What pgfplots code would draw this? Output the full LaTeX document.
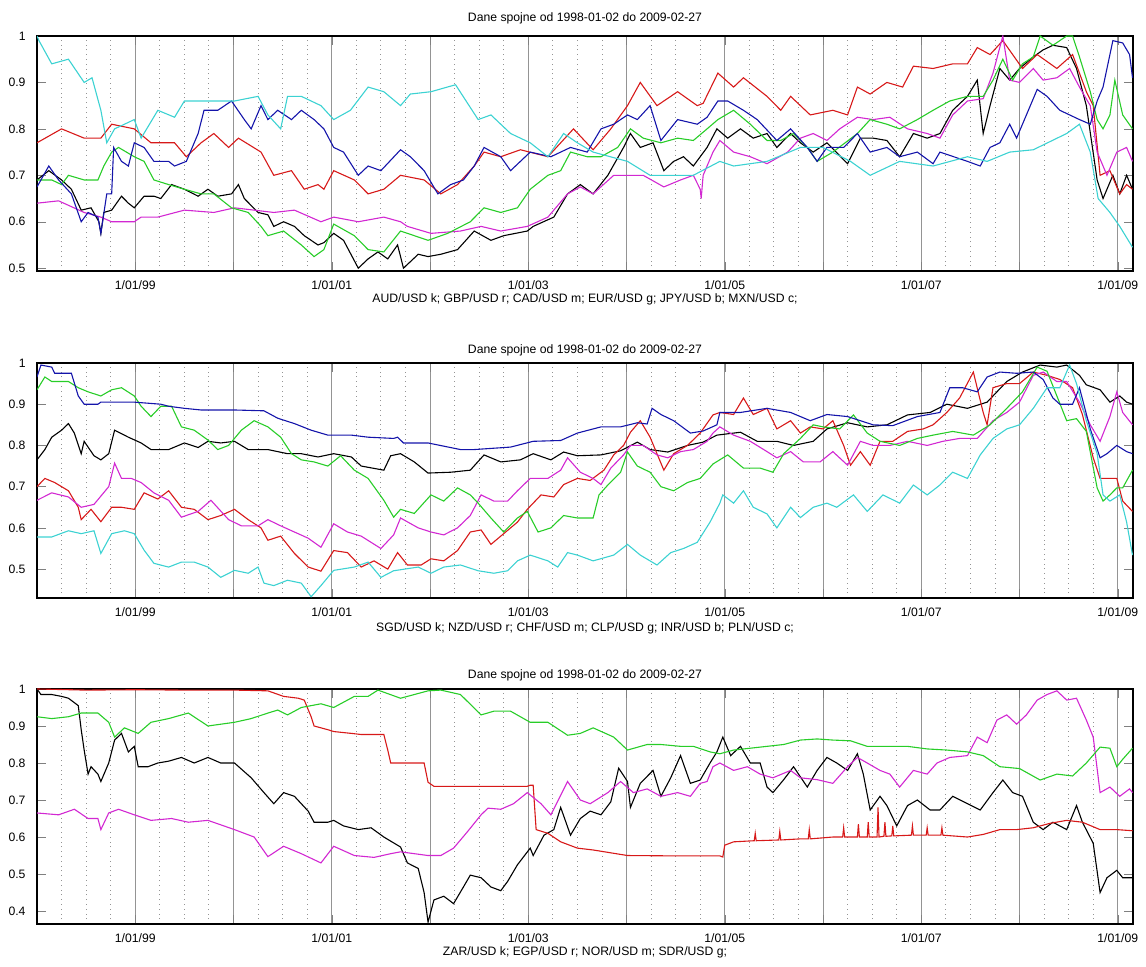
\documentclass[border=0pt]{standalone}
\usepackage{pgfplots}
\pgfplotsset{compat=1.18}
\usepackage{fontspec}
\setmainfont{Liberation Sans}
\definecolor{mk}{RGB}{0,0,0}
\definecolor{mr}{RGB}{215,25,25}
\definecolor{mm}{RGB}{210,40,210}
\definecolor{mg}{RGB}{40,205,40}
\definecolor{mb}{RGB}{20,20,170}
\definecolor{mc}{RGB}{60,210,210}
\newcommand{\fsz}{\fontsize{6.1}{7}\selectfont}
\pgfplotsset{
  fx/.style={
    scale only axis, width=548pt, height=117.5pt,
    xmin=1998.0, xmax=2009.155, ymax=1,
    xtick={1999,2000,2001,2002,2003,2004,2005,2006,2007,2008,2009},
    xticklabels={1/01/99,,1/01/01,,1/01/03,,1/01/05,,1/01/07,,1/01/09},
    minor xtick={1998.25,1998.5,1998.75,1999.25,1999.5,1999.75,2000.25,2000.5,2000.75,2001.25,2001.5,2001.75,2002.25,2002.5,2002.75,2003.25,2003.5,2003.75,2004.25,2004.5,2004.75,2005.25,2005.5,2005.75,2006.25,2006.5,2006.75,2007.25,2007.5,2007.75,2008.25,2008.5,2008.75},
    xmajorgrids, xminorgrids,
    major grid style={black!42, line width=0.45pt},
    minor grid style={black!42, dotted, line width=0.45pt},
    tick align=inside, major tick length=4.5pt, minor tick length=0pt,
    ytick pos=both, xtick pos=both,
    /pgf/number format/assume math mode=true,
    ticklabel style={font=\fsz},
    xticklabel style={anchor=base, yshift=-9.2pt},
    yticklabel style={xshift=-2.2pt},
    title={Dane spojne od 1998-01-02 do 2009-02-27},
    title style={font=\fsz, at={(0.5,1)}, anchor=base},
    xlabel style={font=\fsz, at={(0.5,0)}, anchor=base, yshift=-15.9pt},
    axis line style={black, line width=0.6pt},
    every axis plot/.append style={line width=0.55pt, mark=none},
  }
}
\begin{document}
\begin{tikzpicture}
\useasboundingbox (0,0) rectangle (573pt,483.5pt);
% ---------------- Panel 1 ----------------
\begin{axis}[fx, at={(18.5pt,465.5pt)}, anchor=north west, ymin=0.494,
  title style={yshift=1.0pt},
  ytick={0.5,0.6,0.7,0.8,0.9,1},
  xlabel={AUD/USD k; GBP/USD r; CAD/USD m; EUR/USD g; JPY/USD b; MXN/USD c;}]
\addplot[mk] coordinates {(1998.00,0.69)(1998.12,0.71)(1998.25,0.69)(1998.35,0.67)(1998.45,0.625)(1998.55,0.63)(1998.63,0.60)(1998.65,0.575)(1998.68,0.62)(1998.76,0.625)(1998.86,0.655)(1998.93,0.64)(1998.99,0.63)(1999.09,0.655)(1999.19,0.655)(1999.26,0.65)(1999.37,0.68)(1999.50,0.67)(1999.64,0.655)(1999.74,0.67)(1999.84,0.655)(1999.98,0.66)(2000.05,0.68)(2000.11,0.65)(2000.25,0.62)(2000.35,0.615)(2000.41,0.59)(2000.51,0.60)(2000.62,0.59)(2000.72,0.57)(2000.86,0.55)(2000.92,0.555)(2001.02,0.575)(2001.12,0.56)(2001.27,0.50)(2001.37,0.52)(2001.47,0.535)(2001.57,0.52)(2001.67,0.55)(2001.73,0.50)(2001.88,0.53)(2001.98,0.525)(2002.11,0.53)(2002.28,0.54)(2002.45,0.58)(2002.62,0.56)(2002.75,0.57)(2002.99,0.58)(2003.05,0.59)(2003.26,0.61)(2003.40,0.66)(2003.53,0.68)(2003.66,0.66)(2003.81,0.70)(2003.97,0.76)(2004.04,0.79)(2004.14,0.76)(2004.27,0.77)(2004.38,0.71)(2004.48,0.73)(2004.58,0.74)(2004.68,0.72)(2004.82,0.76)(2004.92,0.80)(2005.03,0.78)(2005.16,0.80)(2005.29,0.78)(2005.43,0.79)(2005.53,0.76)(2005.67,0.79)(2005.77,0.77)(2005.90,0.75)(2006.04,0.77)(2006.25,0.725)(2006.38,0.78)(2006.51,0.78)(2006.65,0.775)(2006.78,0.74)(2006.92,0.79)(2007.06,0.78)(2007.19,0.79)(2007.32,0.84)(2007.47,0.87)(2007.57,0.905)(2007.63,0.79)(2007.70,0.85)(2007.80,0.93)(2007.90,0.905)(2008.00,0.93)(2008.14,0.955)(2008.24,0.97)(2008.34,0.98)(2008.48,0.975)(2008.58,0.93)(2008.68,0.85)(2008.79,0.69)(2008.85,0.65)(2008.95,0.70)(2009.02,0.66)(2009.09,0.70)(2009.15,0.67)};
\addplot[mr] coordinates {(1998.00,0.77)(1998.25,0.80)(1998.48,0.78)(1998.65,0.78)(1998.76,0.81)(1998.99,0.80)(1999.16,0.77)(1999.40,0.77)(1999.52,0.74)(1999.67,0.77)(1999.80,0.79)(1999.95,0.76)(2000.05,0.78)(2000.28,0.75)(2000.41,0.70)(2000.59,0.71)(2000.72,0.67)(2000.86,0.68)(2000.92,0.67)(2001.02,0.71)(2001.23,0.69)(2001.37,0.66)(2001.53,0.67)(2001.70,0.70)(2001.94,0.69)(2002.11,0.66)(2002.28,0.68)(2002.45,0.72)(2002.55,0.75)(2002.72,0.74)(2002.92,0.755)(2003.20,0.74)(2003.46,0.80)(2003.66,0.755)(2003.84,0.80)(2004.01,0.85)(2004.14,0.90)(2004.31,0.85)(2004.52,0.88)(2004.72,0.85)(2004.78,0.855)(2004.93,0.92)(2005.09,0.89)(2005.19,0.91)(2005.43,0.87)(2005.57,0.84)(2005.67,0.87)(2005.87,0.83)(2006.10,0.84)(2006.25,0.83)(2006.35,0.89)(2006.48,0.875)(2006.65,0.90)(2006.81,0.89)(2006.92,0.935)(2007.12,0.93)(2007.32,0.94)(2007.47,0.94)(2007.57,0.975)(2007.70,0.96)(2007.83,0.99)(2007.93,0.96)(2008.03,0.93)(2008.18,0.96)(2008.38,0.93)(2008.54,0.96)(2008.68,0.88)(2008.75,0.85)(2008.82,0.70)(2008.92,0.71)(2009.02,0.66)(2009.09,0.68)(2009.15,0.67)};
\addplot[mm] coordinates {(1998.00,0.64)(1998.22,0.645)(1998.48,0.62)(1998.65,0.61)(1998.76,0.60)(1998.99,0.60)(1999.06,0.61)(1999.23,0.61)(1999.50,0.625)(1999.80,0.62)(2000.01,0.63)(2000.21,0.625)(2000.41,0.62)(2000.62,0.625)(2000.89,0.60)(2001.02,0.61)(2001.27,0.60)(2001.53,0.61)(2001.70,0.60)(2001.77,0.59)(2002.01,0.575)(2002.31,0.58)(2002.52,0.59)(2002.72,0.58)(2002.99,0.59)(2003.20,0.61)(2003.40,0.66)(2003.53,0.675)(2003.66,0.66)(2003.87,0.70)(2004.01,0.70)(2004.17,0.70)(2004.38,0.675)(2004.55,0.69)(2004.68,0.70)(2004.75,0.67)(2004.76,0.65)(2004.78,0.70)(2004.88,0.75)(2004.95,0.775)(2005.09,0.75)(2005.26,0.74)(2005.43,0.725)(2005.64,0.75)(2005.77,0.78)(2005.90,0.79)(2006.04,0.775)(2006.17,0.80)(2006.35,0.825)(2006.51,0.82)(2006.68,0.825)(2006.86,0.80)(2007.06,0.79)(2007.19,0.78)(2007.32,0.83)(2007.47,0.86)(2007.63,0.865)(2007.73,0.92)(2007.83,1.0)(2007.90,0.905)(2008.00,0.90)(2008.14,0.93)(2008.24,0.905)(2008.38,0.91)(2008.51,0.93)(2008.61,0.89)(2008.72,0.85)(2008.79,0.75)(2008.89,0.70)(2008.99,0.75)(2009.09,0.76)(2009.15,0.73)};
\addplot[mg] coordinates {(1998.00,0.69)(1998.15,0.69)(1998.25,0.68)(1998.32,0.70)(1998.48,0.69)(1998.62,0.69)(1998.68,0.72)(1998.76,0.75)(1998.83,0.76)(1998.99,0.74)(1999.09,0.73)(1999.19,0.69)(1999.34,0.68)(1999.50,0.67)(1999.67,0.66)(1999.80,0.66)(1999.98,0.63)(2000.15,0.62)(2000.28,0.59)(2000.35,0.57)(2000.51,0.58)(2000.69,0.55)(2000.82,0.525)(2000.92,0.54)(2001.02,0.595)(2001.23,0.57)(2001.37,0.54)(2001.53,0.535)(2001.70,0.58)(2001.98,0.56)(2002.18,0.575)(2002.41,0.60)(2002.55,0.63)(2002.72,0.62)(2002.89,0.63)(2003.02,0.67)(2003.20,0.70)(2003.33,0.71)(2003.43,0.75)(2003.60,0.74)(2003.74,0.74)(2003.91,0.76)(2004.04,0.80)(2004.17,0.78)(2004.35,0.77)(2004.52,0.78)(2004.68,0.775)(2004.82,0.80)(2004.93,0.82)(2005.09,0.84)(2005.26,0.81)(2005.43,0.775)(2005.57,0.775)(2005.70,0.79)(2005.84,0.76)(2005.94,0.73)(2006.10,0.75)(2006.35,0.79)(2006.48,0.82)(2006.65,0.81)(2006.78,0.80)(2006.96,0.82)(2007.12,0.84)(2007.29,0.86)(2007.47,0.87)(2007.63,0.87)(2007.73,0.905)(2007.83,0.95)(2007.93,0.905)(2008.03,0.94)(2008.14,0.955)(2008.21,1.0)(2008.34,0.98)(2008.48,1.0)(2008.54,1.0)(2008.61,0.955)(2008.72,0.88)(2008.79,0.82)(2008.85,0.80)(2008.92,0.83)(2008.97,0.905)(2009.05,0.83)(2009.15,0.80)};
\addplot[mb] coordinates {(1998.00,0.675)(1998.12,0.72)(1998.22,0.69)(1998.35,0.66)(1998.45,0.60)(1998.52,0.62)(1998.62,0.61)(1998.65,0.575)(1998.71,0.66)(1998.76,0.66)(1998.78,0.76)(1998.86,0.73)(1998.93,0.72)(1998.99,0.77)(1999.09,0.76)(1999.19,0.73)(1999.34,0.73)(1999.40,0.72)(1999.52,0.73)(1999.64,0.79)(1999.70,0.84)(1999.84,0.84)(1999.98,0.86)(2000.11,0.82)(2000.18,0.80)(2000.28,0.85)(2000.35,0.82)(2000.45,0.84)(2000.59,0.82)(2000.69,0.84)(2000.82,0.82)(2000.92,0.80)(2001.02,0.76)(2001.12,0.75)(2001.27,0.70)(2001.37,0.72)(2001.50,0.71)(2001.70,0.755)(2001.80,0.74)(2001.94,0.71)(2002.08,0.66)(2002.21,0.68)(2002.34,0.69)(2002.45,0.72)(2002.55,0.76)(2002.72,0.74)(2002.82,0.71)(2003.02,0.75)(2003.23,0.74)(2003.43,0.76)(2003.60,0.75)(2003.74,0.80)(2003.87,0.81)(2004.01,0.83)(2004.11,0.82)(2004.24,0.85)(2004.35,0.775)(2004.52,0.82)(2004.72,0.81)(2004.82,0.825)(2004.93,0.86)(2005.03,0.86)(2005.19,0.84)(2005.33,0.82)(2005.53,0.775)(2005.67,0.80)(2005.84,0.76)(2005.94,0.73)(2006.04,0.76)(2006.21,0.76)(2006.35,0.79)(2006.48,0.75)(2006.65,0.76)(2006.78,0.74)(2006.96,0.75)(2007.12,0.725)(2007.19,0.75)(2007.47,0.73)(2007.60,0.72)(2007.70,0.76)(2007.80,0.77)(2007.90,0.81)(2007.97,0.78)(2008.03,0.81)(2008.18,0.885)(2008.28,0.87)(2008.41,0.84)(2008.51,0.83)(2008.61,0.82)(2008.72,0.81)(2008.79,0.86)(2008.85,0.89)(2008.95,0.99)(2009.05,0.985)(2009.12,0.96)(2009.15,0.91)};
\addplot[mc] coordinates {(1998.00,1.0)(1998.02,0.99)(1998.15,0.94)(1998.32,0.95)(1998.48,0.90)(1998.56,0.91)(1998.65,0.84)(1998.71,0.77)(1998.79,0.80)(1998.99,0.82)(1999.06,0.78)(1999.23,0.84)(1999.40,0.825)(1999.50,0.86)(1999.74,0.86)(2000.01,0.86)(2000.25,0.87)(2000.35,0.83)(2000.48,0.80)(2000.55,0.87)(2000.69,0.87)(2000.89,0.85)(2001.02,0.82)(2001.19,0.84)(2001.37,0.89)(2001.53,0.88)(2001.70,0.85)(2001.80,0.875)(2002.01,0.88)(2002.26,0.895)(2002.49,0.82)(2002.62,0.83)(2002.82,0.79)(2003.02,0.77)(2003.20,0.74)(2003.36,0.79)(2003.50,0.77)(2003.66,0.75)(2004.01,0.73)(2004.24,0.70)(2004.45,0.70)(2004.68,0.70)(2004.95,0.73)(2005.09,0.72)(2005.43,0.73)(2005.77,0.76)(2006.00,0.76)(2006.28,0.73)(2006.48,0.70)(2006.78,0.73)(2007.12,0.72)(2007.47,0.74)(2007.67,0.73)(2007.90,0.75)(2008.14,0.755)(2008.48,0.79)(2008.61,0.81)(2008.72,0.75)(2008.80,0.65)(2008.92,0.62)(2009.02,0.59)(2009.15,0.545)};
\end{axis}
% ---------------- Panel 2 ----------------
\begin{axis}[fx, at={(18.5pt,302pt)}, anchor=north west, ymin=0.43,
  title style={yshift=-1.2pt},
  xlabel style={yshift=-0.8pt},
  ytick={0.5,0.6,0.7,0.8,0.9,1},
  xlabel={SGD/USD k; NZD/USD r; CHF/USD m; CLP/USD g; INR/USD b; PLN/USD c;}]
\addplot[mk] coordinates {(1998.00,0.765)(1998.08,0.79)(1998.15,0.82)(1998.25,0.837)(1998.32,0.853)(1998.38,0.83)(1998.45,0.78)(1998.48,0.81)(1998.58,0.775)(1998.65,0.765)(1998.73,0.78)(1998.79,0.837)(1998.93,0.82)(1999.06,0.806)(1999.16,0.79)(1999.34,0.79)(1999.50,0.806)(1999.64,0.795)(1999.74,0.81)(1999.87,0.806)(2000.01,0.81)(2000.15,0.79)(2000.35,0.79)(2000.55,0.78)(2000.69,0.78)(2000.86,0.772)(2001.02,0.78)(2001.20,0.772)(2001.30,0.75)(2001.53,0.74)(2001.60,0.775)(2001.70,0.78)(2001.84,0.76)(2001.98,0.733)(2002.21,0.735)(2002.41,0.74)(2002.55,0.777)(2002.72,0.76)(2002.92,0.765)(2003.05,0.78)(2003.23,0.765)(2003.36,0.784)(2003.50,0.775)(2003.74,0.777)(2003.94,0.787)(2004.11,0.808)(2004.24,0.79)(2004.42,0.784)(2004.62,0.80)(2004.78,0.808)(2004.92,0.825)(2005.16,0.832)(2005.33,0.81)(2005.53,0.81)(2005.70,0.80)(2005.90,0.81)(2006.04,0.84)(2006.25,0.855)(2006.45,0.845)(2006.65,0.85)(2006.86,0.874)(2007.09,0.88)(2007.26,0.90)(2007.47,0.89)(2007.67,0.905)(2007.87,0.955)(2008.03,0.978)(2008.21,0.995)(2008.38,0.99)(2008.48,0.995)(2008.61,0.97)(2008.68,0.947)(2008.82,0.935)(2008.92,0.905)(2009.02,0.92)(2009.09,0.905)(2009.15,0.90)};
\addplot[mr] coordinates {(1998.00,0.70)(1998.08,0.72)(1998.18,0.71)(1998.32,0.69)(1998.42,0.65)(1998.45,0.62)(1998.55,0.645)(1998.65,0.615)(1998.76,0.65)(1998.86,0.65)(1998.99,0.645)(1999.09,0.685)(1999.23,0.67)(1999.34,0.69)(1999.47,0.65)(1999.60,0.645)(1999.74,0.62)(1999.87,0.63)(2000.01,0.645)(2000.15,0.62)(2000.28,0.60)(2000.35,0.57)(2000.48,0.58)(2000.62,0.538)(2000.76,0.505)(2000.89,0.495)(2001.02,0.545)(2001.16,0.54)(2001.30,0.505)(2001.43,0.52)(2001.57,0.50)(2001.67,0.54)(2001.77,0.51)(2001.91,0.51)(2002.01,0.525)(2002.14,0.52)(2002.28,0.545)(2002.41,0.59)(2002.52,0.595)(2002.62,0.56)(2002.72,0.58)(2002.89,0.614)(2002.99,0.645)(2003.13,0.68)(2003.26,0.675)(2003.36,0.705)(2003.50,0.72)(2003.63,0.715)(2003.77,0.74)(2003.87,0.777)(2003.97,0.80)(2004.04,0.832)(2004.14,0.86)(2004.24,0.82)(2004.38,0.74)(2004.48,0.78)(2004.62,0.80)(2004.75,0.83)(2004.88,0.874)(2004.95,0.88)(2005.09,0.875)(2005.19,0.915)(2005.29,0.875)(2005.43,0.89)(2005.53,0.84)(2005.67,0.86)(2005.77,0.83)(2005.87,0.845)(2006.00,0.84)(2006.10,0.86)(2006.21,0.80)(2006.28,0.752)(2006.38,0.785)(2006.48,0.752)(2006.58,0.81)(2006.71,0.81)(2006.86,0.834)(2007.02,0.84)(2007.12,0.85)(2007.26,0.88)(2007.39,0.915)(2007.53,0.978)(2007.63,0.88)(2007.67,0.85)(2007.73,0.94)(2007.87,0.95)(2008.00,0.95)(2008.14,0.978)(2008.28,0.97)(2008.41,0.96)(2008.54,0.94)(2008.64,0.875)(2008.75,0.77)(2008.82,0.72)(2008.92,0.72)(2008.99,0.72)(2009.05,0.665)(2009.15,0.64)};
\addplot[mm] coordinates {(1998.00,0.667)(1998.15,0.685)(1998.32,0.675)(1998.45,0.65)(1998.58,0.657)(1998.73,0.70)(1998.79,0.757)(1998.86,0.72)(1998.96,0.72)(1999.06,0.71)(1999.19,0.685)(1999.34,0.667)(1999.47,0.626)(1999.64,0.64)(1999.77,0.667)(1999.95,0.62)(2000.08,0.605)(2000.25,0.605)(2000.35,0.62)(2000.48,0.605)(2000.62,0.59)(2000.76,0.575)(2000.89,0.553)(2001.02,0.61)(2001.16,0.59)(2001.30,0.58)(2001.50,0.55)(2001.63,0.583)(2001.70,0.624)(2001.88,0.60)(2002.01,0.59)(2002.14,0.583)(2002.28,0.60)(2002.41,0.63)(2002.52,0.68)(2002.65,0.665)(2002.79,0.665)(2002.89,0.69)(2003.02,0.72)(2003.20,0.72)(2003.33,0.74)(2003.40,0.77)(2003.53,0.735)(2003.66,0.72)(2003.74,0.705)(2003.84,0.745)(2003.97,0.777)(2004.04,0.80)(2004.17,0.80)(2004.31,0.777)(2004.42,0.77)(2004.55,0.785)(2004.68,0.79)(2004.82,0.81)(2004.88,0.83)(2004.95,0.845)(2005.09,0.825)(2005.26,0.81)(2005.43,0.785)(2005.53,0.77)(2005.67,0.785)(2005.80,0.76)(2005.97,0.76)(2006.10,0.785)(2006.25,0.752)(2006.38,0.81)(2006.51,0.80)(2006.68,0.80)(2006.86,0.81)(2007.06,0.80)(2007.22,0.81)(2007.39,0.817)(2007.57,0.817)(2007.73,0.86)(2007.87,0.88)(2008.00,0.905)(2008.14,0.97)(2008.24,0.978)(2008.38,0.955)(2008.48,0.955)(2008.61,0.905)(2008.72,0.85)(2008.82,0.81)(2008.92,0.87)(2008.99,0.93)(2009.05,0.88)(2009.15,0.85)};
\addplot[mg] coordinates {(1998.00,0.935)(1998.08,0.966)(1998.15,0.955)(1998.32,0.955)(1998.42,0.94)(1998.52,0.93)(1998.65,0.92)(1998.76,0.935)(1998.86,0.94)(1998.99,0.92)(1999.06,0.895)(1999.16,0.87)(1999.26,0.895)(1999.37,0.895)(1999.47,0.845)(1999.60,0.837)(1999.74,0.813)(1999.84,0.79)(1999.95,0.80)(2000.08,0.837)(2000.21,0.86)(2000.35,0.845)(2000.48,0.82)(2000.59,0.78)(2000.69,0.765)(2000.82,0.76)(2000.96,0.75)(2001.09,0.775)(2001.23,0.74)(2001.37,0.72)(2001.53,0.667)(2001.63,0.626)(2001.70,0.645)(2001.84,0.635)(2002.01,0.68)(2002.14,0.665)(2002.28,0.697)(2002.41,0.68)(2002.49,0.66)(2002.62,0.624)(2002.75,0.59)(2002.89,0.624)(2002.99,0.64)(2003.10,0.59)(2003.23,0.60)(2003.36,0.63)(2003.50,0.624)(2003.66,0.624)(2003.72,0.68)(2003.81,0.704)(2003.94,0.735)(2004.01,0.784)(2004.11,0.75)(2004.24,0.735)(2004.35,0.70)(2004.48,0.69)(2004.62,0.71)(2004.75,0.72)(2004.88,0.755)(2005.03,0.777)(2005.19,0.745)(2005.36,0.745)(2005.49,0.735)(2005.60,0.78)(2005.77,0.817)(2005.90,0.85)(2006.00,0.845)(2006.17,0.84)(2006.31,0.874)(2006.45,0.83)(2006.58,0.81)(2006.78,0.80)(2006.96,0.817)(2007.12,0.825)(2007.32,0.834)(2007.53,0.825)(2007.70,0.85)(2007.87,0.89)(2008.03,0.93)(2008.18,0.99)(2008.28,0.98)(2008.38,0.92)(2008.48,0.86)(2008.58,0.865)(2008.68,0.834)(2008.79,0.697)(2008.85,0.665)(2008.92,0.68)(2008.99,0.697)(2009.05,0.697)(2009.15,0.74)};
\addplot[mb] coordinates {(1998.00,0.966)(1998.04,0.995)(1998.15,0.99)(1998.18,0.975)(1998.35,0.975)(1998.42,0.92)(1998.48,0.90)(1998.62,0.90)(1998.65,0.905)(1998.99,0.905)(1999.26,0.90)(1999.34,0.895)(1999.50,0.89)(1999.67,0.886)(2000.01,0.886)(2000.31,0.884)(2000.45,0.866)(2000.62,0.853)(2000.79,0.837)(2000.96,0.825)(2001.20,0.825)(2001.37,0.82)(2001.63,0.817)(2001.67,0.82)(2001.73,0.806)(2001.98,0.806)(2002.31,0.79)(2002.45,0.79)(2002.82,0.796)(2003.05,0.81)(2003.33,0.812)(2003.50,0.83)(2003.74,0.845)(2003.94,0.845)(2004.11,0.855)(2004.21,0.852)(2004.26,0.89)(2004.35,0.875)(2004.48,0.86)(2004.65,0.83)(2004.78,0.835)(2004.92,0.85)(2004.95,0.88)(2005.16,0.88)(2005.43,0.89)(2005.67,0.88)(2005.87,0.86)(2006.04,0.875)(2006.25,0.87)(2006.51,0.85)(2006.71,0.848)(2006.96,0.87)(2007.19,0.88)(2007.29,0.94)(2007.42,0.94)(2007.57,0.93)(2007.67,0.966)(2007.80,0.978)(2007.97,0.975)(2008.14,0.978)(2008.24,0.96)(2008.34,0.915)(2008.41,0.90)(2008.54,0.90)(2008.61,0.94)(2008.72,0.84)(2008.82,0.77)(2008.89,0.78)(2008.99,0.80)(2009.09,0.785)(2009.15,0.78)};
\addplot[mc] coordinates {(1998.00,0.578)(1998.15,0.578)(1998.32,0.593)(1998.45,0.586)(1998.58,0.593)(1998.65,0.538)(1998.76,0.586)(1998.89,0.593)(1998.99,0.586)(1999.09,0.546)(1999.19,0.514)(1999.34,0.505)(1999.47,0.517)(1999.60,0.517)(1999.74,0.505)(1999.87,0.48)(2000.01,0.497)(2000.15,0.49)(2000.25,0.505)(2000.31,0.466)(2000.41,0.46)(2000.55,0.473)(2000.69,0.466)(2000.79,0.433)(2000.89,0.46)(2001.02,0.497)(2001.23,0.505)(2001.37,0.517)(2001.50,0.48)(2001.63,0.496)(2001.88,0.505)(2002.01,0.49)(2002.14,0.505)(2002.31,0.51)(2002.49,0.496)(2002.65,0.49)(2002.79,0.496)(2002.89,0.52)(2003.02,0.534)(2003.20,0.52)(2003.30,0.505)(2003.40,0.54)(2003.50,0.534)(2003.66,0.52)(2003.87,0.534)(2004.01,0.56)(2004.14,0.534)(2004.31,0.51)(2004.45,0.54)(2004.58,0.55)(2004.72,0.565)(2004.85,0.614)(2004.95,0.66)(2004.98,0.68)(2005.09,0.66)(2005.19,0.69)(2005.29,0.65)(2005.43,0.634)(2005.53,0.60)(2005.67,0.65)(2005.77,0.625)(2005.90,0.65)(2006.04,0.66)(2006.14,0.65)(2006.31,0.68)(2006.45,0.64)(2006.61,0.68)(2006.78,0.66)(2006.92,0.704)(2007.06,0.68)(2007.19,0.704)(2007.32,0.735)(2007.47,0.72)(2007.60,0.777)(2007.73,0.817)(2007.87,0.84)(2008.00,0.85)(2008.14,0.89)(2008.28,0.94)(2008.41,0.94)(2008.51,0.995)(2008.58,0.95)(2008.68,0.86)(2008.79,0.78)(2008.85,0.68)(2008.92,0.665)(2009.02,0.68)(2009.09,0.614)(2009.15,0.534)};
\end{axis}
% ---------------- Panel 3 ----------------
\begin{axis}[fx, at={(18.5pt,139pt)}, anchor=north west, ymin=0.365,
  title style={yshift=-0.6pt},
  ytick={0.4,0.5,0.6,0.7,0.8,0.9,1},
  xlabel={ZAR/USD k; EGP/USD r; NOR/USD m; SDR/USD g;}]
\addplot[mk] coordinates {(1998.00,1.0)(1998.04,0.985)(1998.15,0.985)(1998.25,0.98)(1998.32,0.975)(1998.42,0.955)(1998.45,0.89)(1998.48,0.835)(1998.52,0.77)(1998.55,0.79)(1998.62,0.77)(1998.65,0.75)(1998.73,0.80)(1998.79,0.862)(1998.86,0.88)(1998.93,0.83)(1998.99,0.845)(1999.03,0.79)(1999.13,0.79)(1999.23,0.80)(1999.34,0.805)(1999.47,0.815)(1999.60,0.80)(1999.74,0.815)(1999.87,0.80)(2000.01,0.80)(2000.18,0.76)(2000.31,0.72)(2000.41,0.69)(2000.51,0.72)(2000.62,0.71)(2000.76,0.67)(2000.82,0.64)(2000.96,0.64)(2001.02,0.645)(2001.12,0.63)(2001.27,0.62)(2001.40,0.625)(2001.53,0.60)(2001.70,0.573)(2001.77,0.53)(2001.88,0.515)(2001.94,0.45)(2001.98,0.37)(2002.04,0.43)(2002.14,0.44)(2002.24,0.42)(2002.34,0.465)(2002.41,0.497)(2002.52,0.49)(2002.62,0.465)(2002.72,0.455)(2002.79,0.48)(2002.89,0.525)(2003.02,0.57)(2003.05,0.55)(2003.16,0.605)(2003.26,0.62)(2003.33,0.68)(2003.43,0.605)(2003.53,0.65)(2003.63,0.67)(2003.74,0.66)(2003.84,0.695)(2003.92,0.786)(2004.01,0.75)(2004.04,0.68)(2004.14,0.745)(2004.27,0.78)(2004.35,0.71)(2004.45,0.76)(2004.55,0.82)(2004.65,0.745)(2004.75,0.754)(2004.85,0.80)(2004.92,0.83)(2004.98,0.87)(2005.06,0.82)(2005.16,0.845)(2005.26,0.80)(2005.36,0.80)(2005.43,0.735)(2005.49,0.72)(2005.60,0.755)(2005.70,0.79)(2005.84,0.735)(2005.94,0.78)(2006.04,0.815)(2006.14,0.80)(2006.25,0.78)(2006.35,0.825)(2006.41,0.77)(2006.48,0.673)(2006.58,0.71)(2006.65,0.685)(2006.75,0.63)(2006.86,0.685)(2006.96,0.70)(2007.09,0.673)(2007.19,0.673)(2007.32,0.71)(2007.47,0.69)(2007.60,0.673)(2007.73,0.72)(2007.83,0.754)(2007.93,0.72)(2008.03,0.71)(2008.14,0.64)(2008.24,0.62)(2008.34,0.64)(2008.48,0.62)(2008.58,0.685)(2008.64,0.64)(2008.75,0.583)(2008.82,0.45)(2008.89,0.49)(2008.99,0.51)(2009.05,0.49)(2009.15,0.49)};
\addplot[mr] coordinates {(1998.00,1.0)(1998.50,0.997)(1999.00,0.998)(1999.50,0.997)(2000.01,0.997)(2000.35,0.995)(2000.51,0.98)(2000.66,0.975)(2000.72,0.97)(2000.79,0.925)(2000.82,0.90)(2000.96,0.89)(2001.02,0.885)(2001.20,0.88)(2001.30,0.877)(2001.53,0.877)(2001.57,0.835)(2001.60,0.80)(2001.94,0.80)(2001.98,0.748)(2002.04,0.737)(2002.99,0.737)(2003.02,0.74)(2003.05,0.74)(2003.08,0.62)(2003.20,0.61)(2003.33,0.587)(2003.50,0.57)(2003.66,0.565)(2004.01,0.55)(2004.50,0.549)(2004.95,0.549)(2004.98,0.546)(2005.00,0.578)(2005.09,0.587)(2005.30,0.59)(2005.31,0.61)(2005.32,0.59)(2005.55,0.592)(2005.56,0.615)(2005.57,0.592)(2005.77,0.595)(2005.85,0.595)(2005.86,0.62)(2005.87,0.595)(2006.10,0.60)(2006.20,0.60)(2006.21,0.625)(2006.22,0.60)(2006.35,0.60)(2006.36,0.635)(2006.37,0.60)(2006.45,0.60)(2006.46,0.64)(2006.47,0.60)(2006.55,0.60)(2006.56,0.68)(2006.57,0.60)(2006.62,0.602)(2006.63,0.64)(2006.64,0.602)(2006.70,0.603)(2006.71,0.63)(2006.72,0.603)(2006.90,0.605)(2006.91,0.63)(2006.92,0.605)(2007.05,0.605)(2007.06,0.625)(2007.07,0.605)(2007.20,0.605)(2007.21,0.625)(2007.22,0.605)(2007.47,0.60)(2007.63,0.607)(2007.80,0.62)(2007.97,0.62)(2008.14,0.625)(2008.31,0.637)(2008.48,0.645)(2008.64,0.64)(2008.82,0.62)(2008.99,0.62)(2009.15,0.617)};
\addplot[mm] coordinates {(1998.00,0.665)(1998.22,0.66)(1998.38,0.675)(1998.52,0.65)(1998.62,0.65)(1998.65,0.62)(1998.73,0.665)(1998.83,0.675)(1998.99,0.66)(1999.16,0.645)(1999.37,0.65)(1999.54,0.64)(1999.74,0.645)(2000.01,0.62)(2000.21,0.60)(2000.35,0.547)(2000.51,0.575)(2000.69,0.555)(2000.89,0.53)(2001.02,0.575)(2001.23,0.55)(2001.43,0.545)(2001.60,0.555)(2001.70,0.56)(2001.98,0.55)(2002.11,0.55)(2002.24,0.57)(2002.38,0.614)(2002.52,0.66)(2002.59,0.678)(2002.72,0.675)(2002.85,0.69)(2002.99,0.72)(2003.13,0.69)(2003.23,0.66)(2003.40,0.75)(2003.53,0.70)(2003.63,0.69)(2003.81,0.72)(2003.94,0.75)(2004.07,0.72)(2004.21,0.73)(2004.35,0.71)(2004.52,0.72)(2004.65,0.71)(2004.75,0.745)(2004.82,0.75)(2004.88,0.79)(2004.95,0.80)(2005.09,0.78)(2005.23,0.79)(2005.36,0.77)(2005.49,0.76)(2005.67,0.78)(2005.77,0.76)(2005.94,0.755)(2006.10,0.745)(2006.25,0.79)(2006.35,0.815)(2006.45,0.80)(2006.58,0.78)(2006.68,0.77)(2006.78,0.735)(2006.92,0.78)(2007.06,0.77)(2007.16,0.80)(2007.29,0.815)(2007.47,0.82)(2007.57,0.87)(2007.67,0.855)(2007.77,0.916)(2007.87,0.93)(2007.97,0.905)(2008.07,0.93)(2008.18,0.97)(2008.28,0.985)(2008.38,0.995)(2008.48,0.97)(2008.58,0.975)(2008.68,0.916)(2008.75,0.87)(2008.82,0.72)(2008.92,0.735)(2009.02,0.71)(2009.12,0.73)(2009.15,0.72)};
\addplot[mg] coordinates {(1998.00,0.925)(1998.15,0.92)(1998.32,0.925)(1998.45,0.935)(1998.62,0.935)(1998.73,0.91)(1998.79,0.87)(1998.89,0.895)(1999.03,0.88)(1999.16,0.91)(1999.34,0.92)(1999.54,0.935)(1999.74,0.90)(2000.01,0.91)(2000.18,0.92)(2000.35,0.935)(2000.45,0.943)(2000.55,0.93)(2000.69,0.95)(2000.89,0.96)(2001.02,0.95)(2001.23,0.98)(2001.37,0.98)(2001.47,0.997)(2001.70,0.975)(2001.98,0.995)(2002.11,0.997)(2002.31,0.985)(2002.52,0.93)(2002.65,0.94)(2002.82,0.94)(2003.02,0.91)(2003.20,0.91)(2003.40,0.875)(2003.53,0.88)(2003.66,0.895)(2003.87,0.87)(2004.01,0.835)(2004.21,0.85)(2004.35,0.85)(2004.55,0.845)(2004.68,0.845)(2004.85,0.83)(2004.95,0.825)(2005.09,0.835)(2005.26,0.84)(2005.43,0.845)(2005.60,0.85)(2005.77,0.862)(2005.94,0.865)(2006.10,0.862)(2006.28,0.86)(2006.45,0.845)(2006.65,0.845)(2006.86,0.845)(2007.06,0.838)(2007.26,0.835)(2007.47,0.83)(2007.63,0.82)(2007.80,0.79)(2008.00,0.785)(2008.21,0.754)(2008.38,0.77)(2008.54,0.765)(2008.68,0.80)(2008.82,0.843)(2008.92,0.84)(2008.99,0.79)(2009.05,0.81)(2009.15,0.84)};
\end{axis}
\end{tikzpicture}
\end{document}
